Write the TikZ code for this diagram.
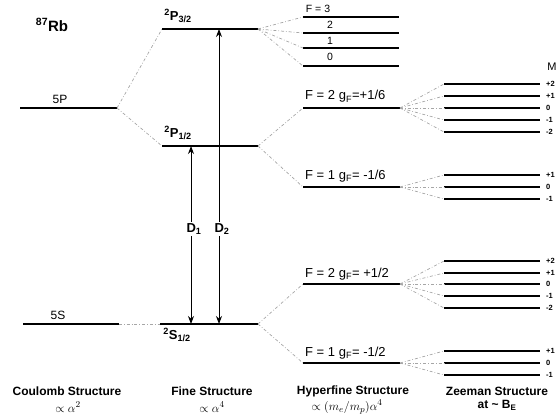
\documentclass[tikz,border=0pt]{standalone}
\usepackage{fontspec}
\setmainfont{Liberation Sans}
\usetikzlibrary{arrows.meta}

\begin{document}
\begin{tikzpicture}[x=1pt,y=-1pt,
  lvl/.style={line width=1.6pt},
  fan/.style={gray!70, line width=0.7pt, dash dot},
  lbl/.style={inner sep=0pt, font=\fontsize{12}{14}\selectfont},
  bl/.style={inner sep=0pt, font=\fontsize{12}{14}\selectfont\bfseries},
  mlbl/.style={anchor=west, inner sep=0pt, font=\fontsize{7.5}{8}\selectfont\bfseries},
  >={Stealth[length=8pt,width=6pt]}]
\useasboundingbox (0,0) rectangle (559,414);

% Coulomb structure
\coordinate (p5a) at (20,108); \coordinate (p5b) at (117,108);
\coordinate (s5a) at (23,324); \coordinate (s5b) at (119,324);
\draw[lvl] (p5a) -- (p5b);
\draw[lvl] (s5a) -- (s5b);
\node[bl, font=\fontsize{15}{17}\selectfont\bfseries] (rb) at (52,25) {\textsuperscript{87}Rb};
\node[lbl] (l5p) at (60,99) {5P};
\node[lbl] (l5s) at (58,315) {5S};

% fine structure
\coordinate (p32a) at (162,29); \coordinate (p32b) at (258,29);
\coordinate (p12a) at (162,146); \coordinate (p12b) at (258,146);
\coordinate (s12a) at (160,324); \coordinate (s12b) at (258,324);
\draw[lvl] (p32a) -- (p32b);
\draw[lvl] (p12a) -- (p12b);
\draw[lvl] (s12a) -- (s12b);
\draw[fan] (p5b) -- (p32a);
\draw[fan] (p5b) -- (p12a);
\draw[fan] (s5b) -- (s12a);
\node[bl, font=\fontsize{13}{15}\selectfont\bfseries] (lp32) at (178,16) {\textsuperscript{2}P\textsubscript{3/2}};
\node[bl, font=\fontsize{13}{15}\selectfont\bfseries] (lp12) at (178,133) {\textsuperscript{2}P\textsubscript{1/2}};
\node[bl, font=\fontsize{13}{15}\selectfont\bfseries] (ls12) at (177,335) {\textsuperscript{2}S\textsubscript{1/2}};

% D lines
\coordinate (d1x) at (191,0); \coordinate (d2x) at (219,0);
\node[bl, font=\fontsize{13}{15}\selectfont\bfseries, inner sep=1.5pt] (d1) at (194,229) {D\textsubscript{1}};
\node[bl, font=\fontsize{13}{15}\selectfont\bfseries, inner sep=1.5pt] (d2) at (222,229) {D\textsubscript{2}};
\draw[->, line width=1pt] (d1.north -| d1x) -- (p12a -| d1x);
\draw[->, line width=1pt] (d1.south -| d1x) -- (s12a -| d1x);
\draw[->, line width=1pt] (d2.north -| d2x) -- (p32a -| d2x);
\draw[->, line width=1pt] (d2.south -| d2x) -- (s12a -| d2x);

% hyperfine structure
\foreach \y/\n in {17/3,33/2,48/1,66/0} {
  \coordinate (h3a\n) at (303,\y); \coordinate (h3b\n) at (399,\y);
  \draw[lvl] (h3a\n) -- (h3b\n);
  \draw[fan] (p32b) -- (h3a\n);
}
\node[lbl, font=\fontsize{10.5}{12}\selectfont] (lf3) at (318,9) {F = 3};
\node[lbl, font=\fontsize{10.5}{12}\selectfont] (lf2) at (330,25) {2};
\node[lbl, font=\fontsize{10.5}{12}\selectfont] (lf1) at (330,41) {1};
\node[lbl, font=\fontsize{10.5}{12}\selectfont] (lf0) at (330,57) {0};

\coordinate (pf2a) at (303,108); \coordinate (pf2b) at (400,108);
\coordinate (pf1a) at (303,187); \coordinate (pf1b) at (400,187);
\coordinate (sf2a) at (303,284); \coordinate (sf2b) at (400,284);
\coordinate (sf1a) at (303,363); \coordinate (sf1b) at (400,363);
\draw[lvl] (pf2a) -- (pf2b);
\draw[lvl] (pf1a) -- (pf1b);
\draw[lvl] (sf2a) -- (sf2b);
\draw[lvl] (sf1a) -- (sf1b);
\draw[fan] (p12b) -- (pf2a);
\draw[fan] (p12b) -- (pf1a);
\draw[fan] (s12b) -- (sf2a);
\draw[fan] (s12b) -- (sf1a);
\node[lbl, font=\fontsize{13}{15}\selectfont, anchor=base west] (lpf2) at (305,100) {F = 2 g\textsubscript{F}=+1/6};
\node[lbl, font=\fontsize{13}{15}\selectfont, anchor=base west] (lpf1) at (305,179) {F = 1 g\textsubscript{F}= -1/6};
\node[lbl, font=\fontsize{13}{15}\selectfont, anchor=base west] (lsf2) at (305,277) {F = 2 g\textsubscript{F}= +1/2};
\node[lbl, font=\fontsize{13}{15}\selectfont, anchor=base west] (lsf1) at (305,356) {F = 1 g\textsubscript{F}= -1/2};

% Zeeman structure
\foreach \n/\yp/\ys/\t in {a/84/261/+2,b/96/273/+1,c/108/284/0,d/120/296/-1,e/132/308/-2} {
  \coordinate (zpa\n) at (444,\yp); \coordinate (zpb\n) at (540,\yp);
  \draw[lvl] (zpa\n) -- (zpb\n);
  \draw[fan] (pf2b) -- (zpa\n);
  \node[mlbl] (mp\n) at ([xshift=6pt]zpb\n) {\t};
  \coordinate (zsa\n) at (444,\ys); \coordinate (zsb\n) at (540,\ys);
  \draw[lvl] (zsa\n) -- (zsb\n);
  \draw[fan] (sf2b) -- (zsa\n);
  \node[mlbl] (ms\n) at ([xshift=6pt]zsb\n) {\t};
}
\foreach \n/\yp/\ys/\t in {a/175/351/+1,b/187/363/0,c/199/375/-1} {
  \coordinate (zqa\n) at (444,\yp); \coordinate (zqb\n) at (540,\yp);
  \draw[lvl] (zqa\n) -- (zqb\n);
  \draw[fan] (pf1b) -- (zqa\n);
  \node[mlbl] (mq\n) at ([xshift=6pt]zqb\n) {\t};
  \coordinate (zra\n) at (444,\ys); \coordinate (zrb\n) at (540,\ys);
  \draw[lvl] (zra\n) -- (zrb\n);
  \draw[fan] (sf1b) -- (zra\n);
  \node[mlbl] (mr\n) at ([xshift=6pt]zrb\n) {\t};
}
\node[lbl, font=\fontsize{11}{13}\selectfont] (mhead) at (552,67) {M};

% bottom captions
\node[bl] (cc) at (67,391) {Coulomb Structure};
\node[lbl, font=\fontsize{13}{15}\selectfont] (ccp) at (68,407) {$\propto\alpha^2$};
\node[bl] (cf) at (212,391) {Fine Structure};
\node[lbl, font=\fontsize{13}{15}\selectfont] (cfp) at (212,407) {$\propto\alpha^4$};
\node[bl] (ch) at (353,391) {Hyperfine Structure};
\node[lbl, font=\fontsize{13}{15}\selectfont] (chp) at (347,407) {$\propto(m_e/m_p)\alpha^4$};
\node[bl] (cz) at (497,391) {Zeeman Structure};
\node[bl] (czp) at (497,405) {at \textasciitilde{} B\textsubscript{E}};
\end{tikzpicture}
\end{document}
